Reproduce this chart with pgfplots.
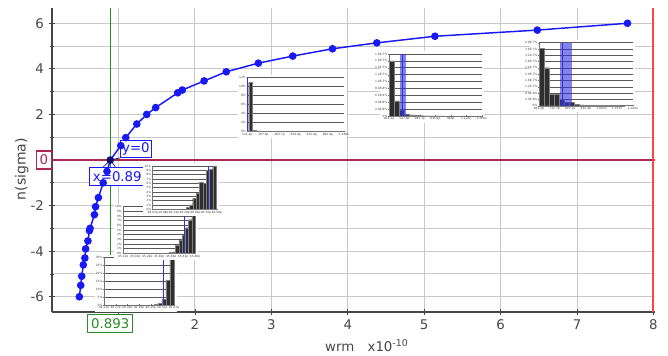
\documentclass[border=0pt]{standalone}
\usepackage{fontspec}
\setmainfont{DejaVu Sans}
\usepackage{pgfplots}
\pgfplotsset{compat=1.18}
\definecolor{curveblue}{RGB}{25,25,245}
\definecolor{zerored}{RGB}{172,40,82}
\definecolor{cursgreen}{RGB}{40,140,40}
\definecolor{endred}{RGB}{250,70,80}
\definecolor{gridgray}{RGB}{200,200,200}
\definecolor{axgray}{RGB}{70,70,70}
\definecolor{bandblue}{RGB}{50,50,220}
\pgfplotsset{
 inset/.style={
  scale only axis, anchor=south west, clip=false,
  axis x line=bottom, axis y line=left,
  axis line style={-, black!55, line width=0.4pt},
  ymajorgrids, grid style={black!65, line width=0.45pt},
  tick style={black!55, line width=0.2pt}, major tick length=1pt,
  ticklabel style={font=\fontsize{2.2}{2.4}\selectfont, text=black!75, inner sep=0.5pt},
  xmin=0, ymin=0, enlargelimits=false,
 },
 histbar/.style={ybar, bar width=1, bar shift=0pt, fill=black!82, draw=black!50, line width=0.2pt},
}
\begin{document}
\begin{tikzpicture}
\useasboundingbox (-39pt,-33pt) rectangle (462pt,234pt);
\begin{axis}[
 at={(0,0)}, anchor=south west,
 scale only axis, width=452.25pt, height=228pt,
 xmin=0.13, xmax=8.02, ymin=-6.67, ymax=6.67,
 clip=false,
 axis x line=bottom, axis y line=left,
 axis line style={-, axgray, line width=0.8pt},
 xtick={1,...,8}, xticklabels={,2,3,4,5,6,7,8},
 ytick={-6,-4,-2,0,2,4,6}, yticklabels={-6,-4,-2,,2,4,6},
 minor ytick={-5,-3,-1,1,3,5},
 grid=both,
 major grid style={gridgray, line width=0.75pt},
 minor grid style={gridgray, line width=0.75pt},
 tick style={axgray, line width=0.6pt}, major tick length=5pt, minor tick length=3pt,
 ticklabel style={font=\fontsize{10}{12}\selectfont, text=axgray},
 /pgf/number format/assume math mode=true,
 xlabel={wrm\quad x10\textsuperscript{-10}},
 xlabel style={at={(axis description cs:0.522,0)}, anchor=north, yshift=-17pt, font=\fontsize{10}{12}\selectfont, text=axgray},
 ylabel={n(sigma)},
 ylabel style={at={(axis description cs:-0.05,0.47)}, anchor=center, font=\fontsize{10.5}{12}\selectfont, text=axgray},
]
\addplot[zerored, line width=1.1pt] coordinates {(0.13,0) (8.02,0)};
\addplot[cursgreen, line width=0.8pt] coordinates {(0.893,-6.67) (0.893,6.67)};
\addplot[endred, line width=1.5pt] coordinates {(8,-6.67) (8,6.67)};
\addplot[curveblue, line width=1.1pt, mark=*, mark size=2.3pt, mark options={fill=curveblue, draw=curveblue}] coordinates {
(0.488,-6.0)(0.506,-5.5)(0.519,-5.1)(0.54,-4.6)(0.56,-4.3)(0.57,-3.9)(0.60,-3.55)(0.62,-3.1)(0.628,-3.0)(0.685,-2.4)(0.70,-2.05)(0.737,-1.65)(0.80,-1.0)(0.85,-0.5)(0.893,0)(1.03,0.63)(1.095,0.98)(1.24,1.58)(1.37,2.0)(1.487,2.3)(1.775,2.95)(1.835,3.07)(2.12,3.47)(2.41,3.87)(2.83,4.25)(3.28,4.56)(3.80,4.88)(4.38,5.14)(5.14,5.43)(6.48,5.7)(7.66,6.0)};
\addplot[curveblue!40!black, line width=0.5pt] coordinates {(0.80,-0.31) (0.893,0) (0.96,-0.31)};
\addplot[curveblue!40!black, line width=0.5pt] coordinates {(0.893,0) (1.02,0.09)};
\addplot[only marks, mark=*, mark size=2.3pt, mark options={fill=curveblue!35!black, draw=curveblue!35!black}] coordinates {(0.893,0)};
\node[draw=zerored, text=zerored, fill=white, line width=0.8pt, inner xsep=2.5pt, inner ysep=1pt, minimum height=13.5pt, anchor=east, font=\fontsize{10}{12}\selectfont] at (axis cs:0.13,0) {0};
\node[draw=cursgreen, text=cursgreen, fill=white, line width=0.8pt, inner xsep=2.5pt, inner ysep=1pt, minimum height=13.5pt, anchor=north, yshift=-1.5pt, font=\fontsize{10}{12}\selectfont] at (axis cs:0.893,-6.67) {0.893};
\node[draw=curveblue, text=curveblue, fill=white, line width=0.8pt, inner xsep=1.2pt, inner ysep=1pt, minimum height=13pt, anchor=south west, font=\fontsize{10}{12}\selectfont] at (axis cs:1.02,0.09) {y=0};
\node[draw=curveblue, text=curveblue, fill=white, line width=0.8pt, inner xsep=2.5pt, inner ysep=1pt, minimum height=13.5pt, anchor=north west, font=\fontsize{10}{12}\selectfont] at (axis cs:0.615,-0.31) {x=0.89};
\end{axis}
% inset A
\fill[white] (139.5pt,130.5pt) rectangle (221pt,178pt);
\begin{axis}[inset, at={(146.5pt,135.5pt)}, width=72.5pt, height=40.5pt, xmax=26, ymax=12,
 ytick={0,2,4,6,8,10,12}, yticklabels={0\%,2\%,4\%,6\%,8\%,10\%,12\%},
 xtick={0,4.333,8.667,13,17.333,21.667,26}, xticklabels={111.4p,287.6p,463.7p,639.8p,815.9p,991.9p,1.168n}]
\addplot[histbar] coordinates {(0.85,10.9)(1.85,0.25)(2.85,0.08)(3.85,0.04)};
\addplot[bandblue, line width=0.6pt] coordinates {(0.05,0)(0.05,12)};
\end{axis}
% inset B
\fill[white] (245.75pt,142pt) rectangle (324.25pt,195.5pt);
\begin{axis}[inset, at={(252.75pt,147pt)}, width=69.5pt, height=46.5pt, xmax=18.5, ymax=9,
 ytick={0,...,9}, yticklabels={0\%,2.0E-8\%,4.0E-8\%,6.0E-8\%,8.0E-8\%,1.0E-7\%,1.2E-7\%,1.4E-7\%,1.6E-7\%,1.8E-7\%},
 xtick={0,3.083,6.167,9.25,12.333,15.417,18.5}, xticklabels={403.4p,547.6p,691.7p,835.9p,980p,1.124n,1.268n}]
\addplot[histbar] coordinates {(0.5,8.0)(1.5,2.2)(2.5,0.78)(3.5,0.3)(4.5,0.15)(5.5,0.07)(6.5,0.05)(7.5,0.03)(8.5,0.02)(9.5,0.02)(10.5,0.01)};
\addplot[fill=bandblue, fill opacity=0.6, draw=none] coordinates {(2.2,9)(3.35,9)} \closedcycle;
\addplot[bandblue, line width=0.6pt] coordinates {(2.7,0)(2.7,9)};
\end{axis}
% inset C
\fill[white] (358.25pt,149.7pt) rectangle (437.5pt,204pt);
\begin{axis}[inset, at={(365.25pt,154.7pt)}, width=70.3pt, height=47.25pt, xmax=18.7, ymax=10,
 ytick={0,...,10}, yticklabels={0\%,4.0E-8\%,8.0E-8\%,1.2E-7\%,1.6E-7\%,2.0E-7\%,2.4E-7\%,2.8E-7\%,3.2E-7\%,3.6E-7\%,4.0E-7\%},
 xtick={0,3.117,6.233,9.35,12.467,15.583,18.7}, xticklabels={601.4p,711.7p,822.1p,932.4p,1.043n,1.153n,1.264n}]
\addplot[histbar] coordinates {(0.5,9.1)(1.5,6.03)(2.5,1.8)(3.5,1.8)(4.5,1.0)(5.5,0.53)(6.5,0.53)(7.5,0.25)(8.5,0.12)(9.5,0.1)(10.5,0.08)(11.5,0.06)(12.5,0.05)(13.5,0.03)(14.5,0.02)(15.5,0.02)(16.5,0.01)};
\addplot[fill=bandblue, fill opacity=0.6, draw=none] coordinates {(4.2,10)(6.54,10)} \closedcycle;
\addplot[bandblue, line width=0.6pt] coordinates {(4.66,0)(4.66,10)};
\end{axis}
% inset F
\fill[white] (32pt,0.25pt) rectangle (93.5pt,43pt);
\begin{axis}[inset, at={(39pt,5.25pt)}, width=52.5pt, height=35.8pt, xmax=17.8, ymax=6,
 ytick={0,...,6}, yticklabels={0\%,5\%,10\%,15\%,20\%,25\%,30\%},
 xtick={0,2.967,5.933,8.9,11.867,14.833,17.8}, xticklabels={40.21p,40.27p,40.33p,40.39p,40.45p,40.51p,40.57p}]
\addplot[histbar] coordinates {(13.25,0.12)(14.25,0.18)(15.25,0.7)(16.25,3.1)(17.25,5.75)};
\addplot[bandblue, line width=0.6pt] coordinates {(15.0,0)(15.0,6)};
\end{axis}
% inset E
\fill[white] (46.5pt,39pt) rectangle (109.3pt,81pt);
\begin{axis}[inset, at={(53.5pt,44pt)}, width=53.8pt, height=35pt, xmax=22, ymax=10,
 ytick={0,...,10}, yticklabels={0\%,1\%,2\%,3\%,4\%,5\%,6\%,7\%,8\%,9\%,10\%},
 xtick={0,3.667,7.333,11,14.667,18.333,22}, xticklabels={45.12p,45.18p,45.24p,45.30p,45.36p,45.42p,45.48p}]
\addplot[histbar] coordinates {(14.5,0.2)(15.5,0.3)(16.5,1.8)(17.5,2.9)(18.5,4.0)(19.5,5.5)(20.5,7.2)(21.5,8.8)};
\addplot[bandblue, line width=0.6pt] coordinates {(18.8,0)(18.8,10)};
\end{axis}
% inset D
\fill[white] (68.25pt,72pt) rectangle (125.5pt,111.5pt);
\begin{axis}[inset, at={(75.5pt,77pt)}, width=48pt, height=32.5pt, xmax=19.2, ymax=10,
 ytick={0,...,10}, yticklabels={0\%,1\%,2\%,3\%,4\%,5\%,6\%,7\%,8\%,9\%,10\%},
 xtick={0,3.2,6.4,9.6,12.8,16,19.2}, xticklabels={49.02p,49.08p,49.14p,49.20p,49.26p,49.32p,49.38p}]
\addplot[histbar] coordinates {(10.5,0.4)(11.5,1.0)(12.5,2.5)(13.5,3.8)(14.5,6.2)(15.5,6.0)(16.5,9.0)(17.5,9.2)(18.5,10)};
\addplot[bandblue, line width=0.6pt] coordinates {(16.7,0)(16.7,10)};
\end{axis}
\end{tikzpicture}
\end{document}
